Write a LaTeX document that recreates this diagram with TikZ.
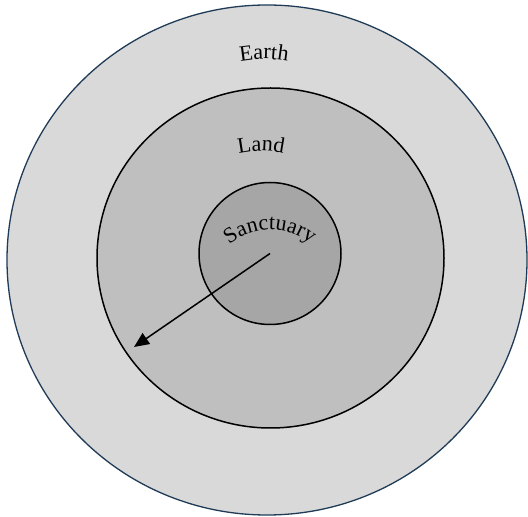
\documentclass[tikz,border=0pt]{standalone}
\usepackage{fontspec}
\setmainfont{Liberation Serif}
\usetikzlibrary{shapes.geometric,arrows.meta,decorations.text}
\definecolor{earthfill}{HTML}{D9D9D9}
\definecolor{earthline}{HTML}{1F3B57}
\definecolor{landfill}{HTML}{BFBFBF}
\definecolor{sancfill}{HTML}{A6A6A6}
\begin{document}
\begin{tikzpicture}[x=1pt,y=1pt,
  zone/.style={ellipse, inner sep=0pt, outer sep=0pt},
  arclabel/.style={decorate, decoration={text along path, text align=center,
     text={#1}}}]
\useasboundingbox (0,0) rectangle (528,517);
\node[zone, draw=earthline, line width=1.3pt, fill=earthfill,
  minimum width=520pt, minimum height=510pt] (earth) at (267,257) {};
\node[zone, draw=black, line width=1.5pt, fill=landfill,
  minimum width=347pt, minimum height=340pt] (land) at (270.5,259) {};
\node[zone, draw=black, line width=1.5pt, fill=sancfill,
  minimum width=142pt, minimum height=142pt] (sanct) at (270,263.5) {};
\coordinate (tip) at (134,170);
\draw[line width=1.5pt, -{Triangle[length=15pt,width=13pt]}] (sanct.center) -- (tip);
\fontsize{22}{25}\selectfont
\path[arclabel=Earth] (264,328) ++(115:130) arc[start angle=115, end angle=65, radius=130];
\path[arclabel=Land] (261,263) ++(120:103) arc[start angle=120, end angle=60, radius=103];
\path[arclabel=Sanctuary] (270,222) ++(165:65) arc[start angle=165, end angle=15, radius=65];
\end{tikzpicture}
\end{document}
